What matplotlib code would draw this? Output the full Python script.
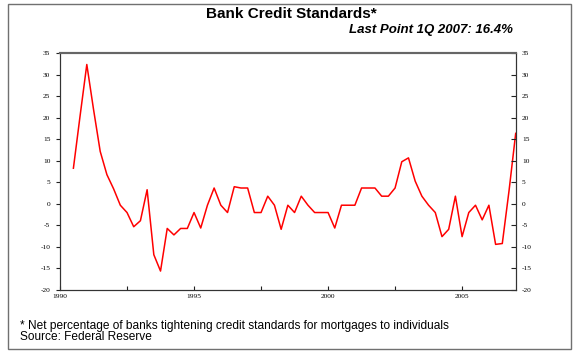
# bank credit standards chart
import numpy as np
import pandas as pd
import matplotlib
matplotlib.use('Agg')
import matplotlib.pyplot as plt
from matplotlib.patches import Rectangle

# quarterly data, 1990Q3 .. 2007Q1
quarters = pd.period_range('1990Q3', '2007Q1', freq='Q')
values = [
    8.3, 20.5,
    32.4, 22.0, 12.2, 6.8,
    3.5, -0.3, -2.0, -5.3,
    -3.9, 3.3, -11.8, -15.6,
    -5.7, -7.2, -5.7, -5.7,
    -2.0, -5.6, -0.3, 3.7,
    -0.3, -2.0, 4.0, 3.7,
    3.7, -2.0, -2.0, 1.8,
    -0.3, -5.9, -0.3, -2.0,
    1.8, -0.3, -2.0, -2.0,
    -2.0, -5.6, -0.3, -0.3,
    -0.3, 3.7, 3.7, 3.7,
    1.8, 1.8, 3.7, 9.8,
    10.7, 5.3, 1.8, -0.3,
    -2.0, -7.6, -5.9, 1.8,
    -7.6, -2.0, -0.3, -3.7,
    -0.3, -9.4, -9.2, 3.0,
    16.4,
]
years = quarters.year + (quarters.quarter - 1) / 4.0

x_major = [1990, 1995, 2000, 2005]
x_minor = [1992.5, 1997.5, 2002.5]
y_ticks = list(range(-20, 40, 5))

title = 'Bank Credit Standards*'
subtitle = 'Last Point 1Q 2007: 16.4%'
note1 = '* Net percentage of banks tightening credit standards for mortgages to individuals'
note2 = 'Source: Federal Reserve'

W, H = 576, 354
fig = plt.figure(figsize=(W/100, H/100), dpi=100)

# outer frame
fig.patches.append(Rectangle((8/W, 1-349/H), 563/W, 345.5/H,
                             transform=fig.transFigure, fill=False,
                             edgecolor='#707070', linewidth=1.0))

ax = fig.add_axes([60/W, 1-290/H, 455.7/W, 236.7/H])
ax.plot(years, values, color='#ff0000', linewidth=1.1)
ax.set_xlim(1990, 2007)
ax.set_ylim(-20, 35)

tick_font = dict(family='Liberation Serif', size=5.3)

ax.set_xticks(x_major)
ax.set_xticks(x_minor, minor=True)
ax.set_xticklabels([str(v) for v in x_major], **tick_font)
ax.tick_params(axis='x', which='both', direction='in', length=3, width=0.8,
               pad=3, color='#222222')

ax.set_yticks(y_ticks)
ax.set_yticklabels([str(v) for v in y_ticks], **tick_font)
ax.tick_params(axis='y', direction='out', length=3, width=0.8, pad=4,
               color='#222222')

ax2 = ax.twinx()
ax2.set_ylim(-20, 35)
ax2.set_yticks(y_ticks)
ax2.set_yticklabels([str(v) for v in y_ticks], **tick_font)
ax2.tick_params(axis='y', direction='in', length=3.5, width=0.8, pad=4.5,
                color='#222222')

for a in (ax, ax2):
    for s in ['left', 'right', 'bottom']:
        a.spines[s].set_color('#333333')
        a.spines[s].set_linewidth(0.8)
    a.spines['top'].set_color('#666666')
    a.spines['top'].set_linewidth(1.5)

fig.text(291.5/W, 1-14.5/H, title, ha='center', va='center',
         family='Liberation Sans', weight='bold', fontsize=11)
fig.text(512.7/W, 1-29.5/H, subtitle, ha='right', va='center',
         family='Liberation Sans', weight='bold', style='italic', fontsize=9.5)
fig.text(20/W, 1-328.5/H, note1, ha='left', va='baseline',
         family='Liberation Sans', fontsize=8.6)
fig.text(20/W, 1-340.5/H, note2, ha='left', va='baseline',
         family='Liberation Sans', fontsize=8.6)

fig.savefig('out.png', dpi=100)
